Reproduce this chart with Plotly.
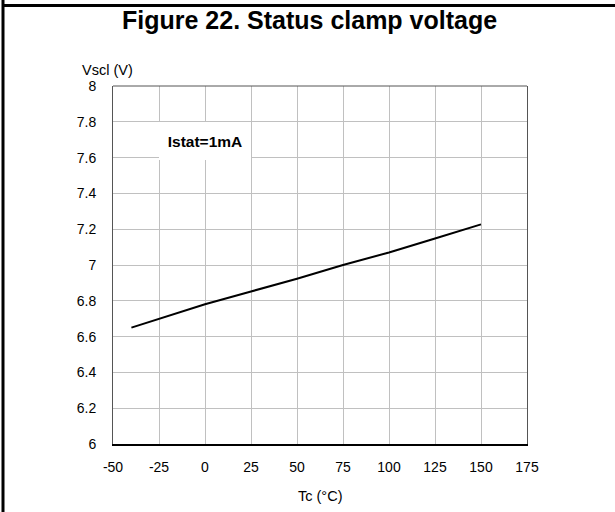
import plotly.graph_objects as go

# Data
tc = [-40, 0, 25, 50, 75, 100, 125, 150]
vscl = [6.65, 6.781, 6.852, 6.923, 7.0, 7.07, 7.148, 7.227]

x_ticks = [-50, -25, 0, 25, 50, 75, 100, 125, 150, 175]
x_tick_labels = ["-50", "-25", "0", "25", "50", "75", "100", "125", "150", "175"]
y_ticks = [6, 6.2, 6.4, 6.6, 6.8, 7, 7.2, 7.4, 7.6, 7.8, 8]
y_tick_labels = ["6", "6.2", "6.4", "6.6", "6.8", "7", "7.2", "7.4", "7.6", "7.8", "8"]

title_text = "<b>Figure 22. Status clamp voltage</b>"
y_title = "Vscl (V)"
x_title = "Tc (°C)"
note_text = "<b>Istat=1mA</b>"

W, H = 615, 512
L, R, T, B = 113, 88, 86, 68
PW, PH = W - L - R, H - T - B

def px_x(p):
    return (p - L) / PW

def px_y(p):
    return 1 - (p - T) / PH

FONT = "Liberation Sans, Arial, sans-serif"

fig = go.Figure()
fig.add_trace(go.Scatter(x=tc, y=vscl, mode="lines",
                         line=dict(color="black", width=2),
                         showlegend=False, hoverinfo="skip"))

fig.update_layout(
    width=W, height=H,
    margin=dict(l=L, r=R, t=T, b=B, pad=0),
    paper_bgcolor="white", plot_bgcolor="white",
    font=dict(family=FONT, size=14, color="black"),
    showlegend=False,
)

fig.update_xaxes(range=[-50, 175], tickmode="array", tickvals=x_ticks,
                 ticktext=x_tick_labels, showgrid=True, gridcolor="#c0c0c0",
                 gridwidth=1, zeroline=False, showline=True, linecolor="black",
                 linewidth=2, ticks="", ticklabelstandoff=9,
                 tickfont=dict(family=FONT, size=14, color="black"))
fig.update_yaxes(range=[6, 8], tickmode="array", tickvals=y_ticks,
                 ticktext=y_tick_labels, showgrid=True, gridcolor="#c0c0c0",
                 gridwidth=1, zeroline=False, showline=True, linecolor="#555555",
                 linewidth=1, mirror=True, ticks="", ticklabelstandoff=13,
                 tickfont=dict(family=FONT, size=14, color="black"))

shapes = [
    # top frame of plot
    dict(type="line", xref="paper", yref="paper", x0=0, x1=1, y0=1, y1=1,
         line=dict(color="#555555", width=1)),
    # outer figure border: top and left
    dict(type="line", xref="paper", yref="paper", x0=px_x(2), x1=px_x(W),
         y0=px_y(5.5), y1=px_y(5.5), line=dict(color="black", width=3)),
    dict(type="rect", xref="paper", yref="paper", x0=px_x(1.5), x1=px_x(4.5),
         y0=px_y(H), y1=px_y(0), fillcolor="black", line=dict(width=0)),
]
fig.update_layout(shapes=shapes)

# title
fig.add_annotation(text=title_text, x=px_x(309), y=px_y(20), xref="paper", yref="paper",
                   xanchor="center", yanchor="middle", showarrow=False,
                   font=dict(family=FONT, size=25, color="black"))
# note in a white box hiding the grid
fig.add_annotation(text=note_text, x=0, y=7.69, xref="x", yref="y",
                   width=92, height=38, bgcolor="white", borderpad=0, borderwidth=0,
                   showarrow=False, font=dict(family=FONT, size=15.5, color="black"))
fig.add_annotation(text=y_title, x=px_x(80), y=px_y(70), xref="paper", yref="paper",
                   xanchor="left", yanchor="middle", showarrow=False,
                   font=dict(family=FONT, size=14.5, color="black"))
fig.add_annotation(text=x_title, x=0.5, y=px_y(496), xref="paper", yref="paper",
                   xanchor="center", yanchor="middle", showarrow=False,
                   font=dict(family=FONT, size=14.5, color="black"))

fig.write_html("out.html", config={"displayModeBar": False},
               post_script="document.body.style.margin='0';document.body.style.overflow='hidden';")
